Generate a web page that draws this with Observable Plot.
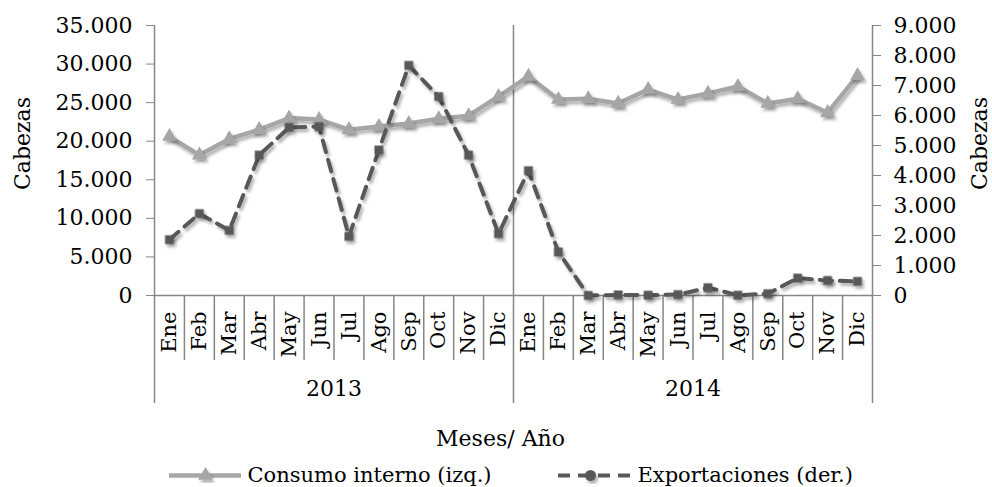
<!DOCTYPE html>
<html>
<head>
<meta charset="utf-8">
<script src="https://cdn.jsdelivr.net/npm/d3@7"></script>
<script src="https://cdn.jsdelivr.net/npm/@observablehq/plot@0.6"></script>
<style>
  html, body { margin: 0; padding: 0; background: #fff; }
</style>
</head>
<body>
<div id="chart"></div>
<script>
// ---- data ----
const years = ["2013", "2014"];
const months = ["Ene", "Feb", "Mar", "Abr", "May", "Jun", "Jul", "Ago", "Sep", "Oct", "Nov", "Dic"];
const consumoInterno = [20600, 18200, 20300, 21500, 23000, 22800, 21500, 21900, 22300, 22900, 23300, 25800,
                        28400, 25400, 25500, 24900, 26700, 25400, 26200, 27100, 24900, 25500, 23700, 28500];
const exportaciones = [1860, 2730, 2170, 4680, 5600, 5630, 1970, 4850, 7670, 6630, 4680, 2060,
                       4160, 1450, 0, 20, 10, 30, 260, 10, 60, 580, 500, 470];
const leftTicks = [0, 5000, 10000, 15000, 20000, 25000, 30000, 35000];
const rightTicks = [0, 1000, 2000, 3000, 4000, 5000, 6000, 7000, 8000, 9000];
const seriesNames = ["Consumo interno (izq.)", "Exportaciones (der.)"];
const yTitle = "Cabezas";
const xTitle = "Meses/ Año";

// ---- derived ----
const leftMax = d3.max(leftTicks), rightMax = d3.max(rightTicks);
const k = leftMax / rightMax;
const rows = consumoInterno.map((c, i) => ({
  i, year: years[Math.floor(i / months.length)], month: months[i % months.length],
  consumo: c, exp: exportaciones[i], expScaled: exportaciones[i] * k
}));
const yearCenters = d3.rollups(rows, v => d3.mean(v, d => d.i), d => d.year).map(([year, x]) => ({year, x}));
const n = rows.length;
const bounds = d3.range(n + 1).map(b => b - 0.5);
const yearBounds = bounds.filter((b, j) => j % months.length === 0);
const monthBounds = bounds.filter((b, j) => j % months.length !== 0);

const fmt = d3.formatLocale({decimal: ",", thousands: ".", grouping: [3], currency: ["", ""]}).format(",.0f");

// ---- layout ----
const W = 992, H = 487, mL = 154, mR = 120, mT = 25, mB = 192;
const frameH = H - mT - mB;
const axisColor = "#868686";
const cGray = "#a6a6a6", cDark = "#595959";
const legendDy = 180;

const chart = Plot.plot({
  width: W, height: H,
  marginLeft: mL, marginRight: mR, marginTop: mT, marginBottom: mB,
  style: {fontFamily: "'DejaVu Serif', serif", fontSize: "21px", background: "#fff", color: "#000"},
  x: {type: "linear", domain: [-0.5, n - 0.5], axis: null},
  y: {domain: [0, leftMax], axis: null},
  marks: [
    // axis frame lines
    Plot.ruleX(yearBounds, {x: d => d, stroke: axisColor, strokeWidth: 1.5, insetBottom: -108}),
    Plot.ruleX(monthBounds, {x: d => d, stroke: axisColor, strokeWidth: 1.5, insetTop: frameH, insetBottom: -65}),
    Plot.ruleY([0], {stroke: axisColor, strokeWidth: 1.5}),
    // left axis
    Plot.axisY(leftTicks, {anchor: "left", tickFormat: fmt, tickSize: 8, tickPadding: 14,
      stroke: axisColor, fill: "#000", label: null, fontSize: 22}),
    // right axis
    Plot.axisY(rightTicks.map(v => v * k), {anchor: "right", tickFormat: d => fmt(Math.round(d / k)),
      tickSize: 8, tickPadding: 13, stroke: axisColor, fill: "#000", label: null, fontSize: 22}),
    // y titles
    Plot.text([yTitle], {frameAnchor: "left", dx: -132, dy: -17, rotate: -90, textAnchor: "middle",
      lineAnchor: "middle", fontSize: 22}),
    Plot.text([yTitle], {frameAnchor: "right", dx: 107, dy: -17, rotate: -90, textAnchor: "middle",
      lineAnchor: "middle", fontSize: 22}),
    // month labels
    Plot.text(rows, {x: "i", text: "month", frameAnchor: "bottom", rotate: -90, textAnchor: "end",
      lineAnchor: "middle", dy: 16, fontSize: 21}),
    // year labels
    Plot.text(yearCenters, {x: "x", text: "year", frameAnchor: "bottom", lineAnchor: "middle", dy: 93, fontSize: 22}),
    // x title
    Plot.text([xTitle], {frameAnchor: "bottom", lineAnchor: "middle", dx: -13, dy: 143, fontSize: 22}),
    // series
    Plot.line(rows, {x: "i", y: "consumo", stroke: cGray, strokeWidth: 4.5}),
    Plot.dot(rows, {x: "i", y: "consumo", symbol: "triangle", r: 5.5, fill: cGray}),
    Plot.line(rows, {x: "i", y: "expScaled", stroke: cDark, strokeWidth: 4, strokeDasharray: "12,8"}),
    Plot.dot(rows, {x: "i", y: "expScaled", symbol: "square", r: 5, fill: cDark}),
    // legend
    Plot.ruleY([0], {dy: legendDy, insetLeft: 15, insetRight: 631, stroke: cGray, strokeWidth: 4.5}),
    Plot.dot([0], {frameAnchor: "bottom-left", dx: 51, dy: legendDy, symbol: "triangle", r: 5.5, fill: cGray}),
    Plot.text([seriesNames[0]], {frameAnchor: "bottom-left", dx: 93, dy: legendDy, textAnchor: "start",
      lineAnchor: "middle", fontSize: 21}),
    Plot.ruleY([0], {dy: legendDy, insetLeft: 404, insetRight: 242, stroke: cDark, strokeWidth: 4, strokeDasharray: "12,8"}),
    Plot.dot([0], {frameAnchor: "bottom-left", dx: 436, dy: legendDy, symbol: "circle", r: 5.5, fill: cDark}),
    Plot.text([seriesNames[1]], {frameAnchor: "bottom-left", dx: 483, dy: legendDy, textAnchor: "start",
      lineAnchor: "middle", fontSize: 21})
  ]
});

document.getElementById("chart").appendChild(chart);

// soft drop shadow on the series, like the original
const svg = d3.select(chart);
svg.insert("defs", ":first-child").html(
  '<filter id="sh" x="-20%" y="-20%" width="140%" height="140%">' +
  '<feDropShadow dx="2" dy="3" stdDeviation="1.6" flood-color="#000" flood-opacity="0.3"/></filter>');
svg.selectAll('g[aria-label="line"], g[aria-label="dot"]').attr("filter", "url(#sh)");
</script>
</body>
</html>
